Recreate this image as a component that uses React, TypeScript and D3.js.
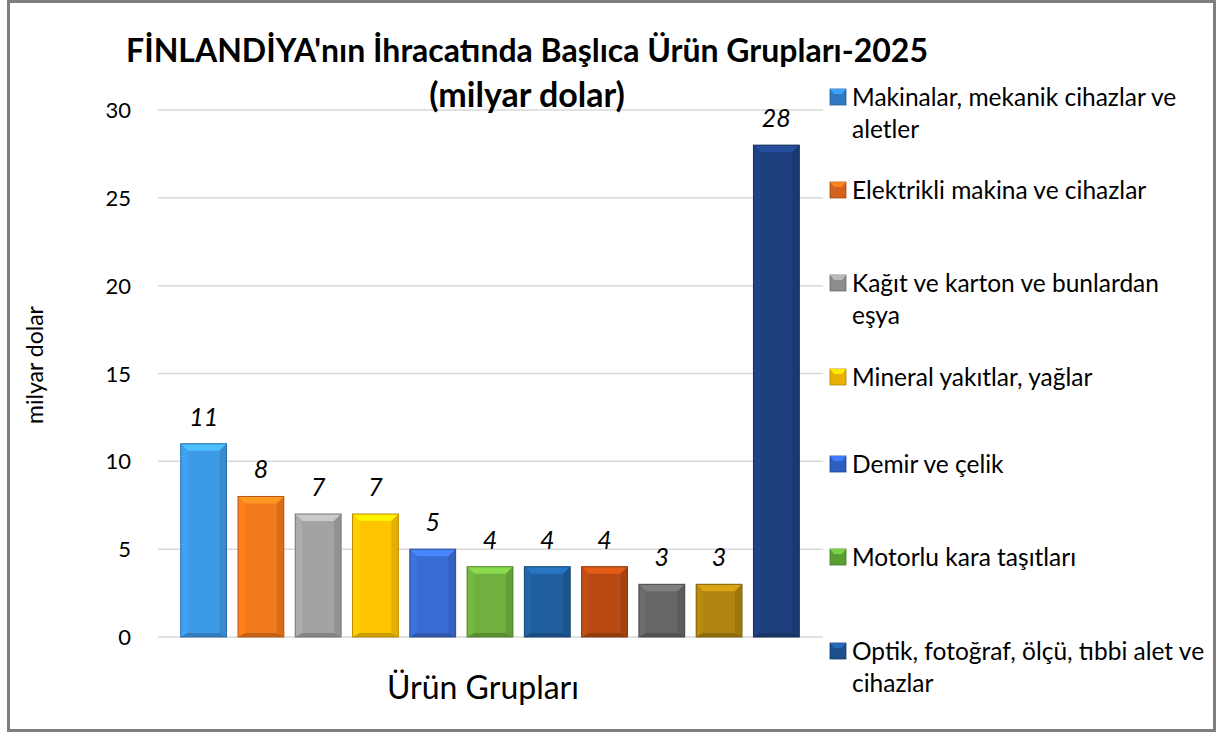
import React, { useEffect, useRef } from 'react';
import * as d3 from 'd3';

const categories = [
  'Makinalar, mekanik cihazlar ve aletler',
  'Elektrikli makina ve cihazlar',
  'Kağıt ve karton ve bunlardan eşya',
  'Mineral yakıtlar, yağlar',
  'Demir ve çelik',
  'Motorlu kara taşıtları',
  'Optik, fotoğraf, ölçü, tıbbi alet ve cihazlar',
  'Plastikler ve mamulleri',
  'Ağaç ve ağaç mamulleri',
  'Eczacılık ürünleri',
  'Diğer',
];
const values = [11, 8, 7, 7, 5, 4, 4, 4, 3, 3, 28];
const colors = [
  '#3d9ae6', '#f27a1c', '#a3a3a3', '#ffc400', '#3a6cd4', '#6fb03e',
  '#1f5f9e', '#b84a12', '#666666', '#b08410', '#1e3f7e',
];
// legend shows only the entries that fit
const legendLines = [
  ['Makinalar, mekanik cihazlar ve', 'aletler'],
  ['Elektrikli makina ve cihazlar'],
  ['Kağıt ve karton ve bunlardan', 'eşya'],
  ['Mineral yakıtlar, yağlar'],
  ['Demir ve çelik'],
  ['Motorlu kara taşıtları'],
  ['Optik, fotoğraf, ölçü, tıbbi alet ve', 'cihazlar'],
];
const legendColors = ['#2f78c4', '#d2621c', '#8c8c8c', '#e8b000', '#2d5fc0', '#5a9e32', '#1c4f8c'];
const yTicks = [0, 5, 10, 15, 20, 25, 30];

const W = 1219;
const H = 733;
const font = 'Lato, "Open Sans", sans-serif';

export default function App() {
  const svgRef = useRef<SVGSVGElement>(null);

  useEffect(() => {
    const svg = d3.select(svgRef.current);
    svg.selectAll('*').remove();

    const x = d3.scaleBand<number>()
      .domain(d3.range(values.length))
      .range([175, 805])
      .paddingInner(0.2)
      .paddingOuter(0.1);

    const y = d3.scaleLinear().domain([0, 30]).range([637, 110]);

    svg.append('rect')
      .attr('x', 8.5).attr('y', 1.5)
      .attr('width', 1206).attr('height', 729)
      .attr('fill', '#fff')
      .attr('stroke', '#7f7f7f')
      .attr('stroke-width', 3);

    // grid
    svg.append('g')
      .selectAll('line')
      .data(yTicks)
      .join('line')
      .attr('x1', 158).attr('x2', 823)
      .attr('y1', d => y(d)).attr('y2', d => y(d))
      .attr('stroke', '#d9d9d9')
      .attr('stroke-width', 1.5);

    svg.append('g')
      .selectAll('text')
      .data(yTicks)
      .join('text')
      .attr('x', 131)
      .attr('y', d => y(d) + 8)
      .attr('text-anchor', 'end')
      .attr('font-family', font)
      .attr('font-size', 22)
      .attr('fill', '#000')
      .text(d => d);

    // bars with a bevel look
    const bw = x.bandwidth();
    const bars = svg.append('g')
      .selectAll('g')
      .data(values)
      .join('g')
      .attr('transform', (d, i) => `translate(${x(i)},${y(d)})`);

    bars.append('rect')
      .attr('width', bw)
      .attr('height', d => y(0) - y(d))
      .attr('fill', (d, i) => colors[i]);

    const bev = 7;
    bars.append('path')
      .attr('d', `M0,0 L${bw},0 L${bw - bev},${bev} L${bev},${bev} Z`)
      .attr('fill', (d, i) => d3.color(colors[i])!.brighter(0.6).toString());
    bars.append('path')
      .attr('d', d => `M0,0 L${bev},${bev} L${bev},${y(0) - y(d) - 4} L0,${y(0) - y(d)} Z`)
      .attr('fill', (d, i) => d3.color(colors[i])!.brighter(0.15).toString());
    bars.append('path')
      .attr('d', d => `M${bw},0 L${bw - bev},${bev} L${bw - bev},${y(0) - y(d) - 4} L${bw},${y(0) - y(d)} Z`)
      .attr('fill', (d, i) => d3.color(colors[i])!.darker(0.3).toString());
    bars.append('path')
      .attr('d', d => `M0,${y(0) - y(d)} L${bev},${y(0) - y(d) - 4} L${bw - bev},${y(0) - y(d) - 4} L${bw},${y(0) - y(d)} Z`)
      .attr('fill', (d, i) => d3.color(colors[i])!.darker(0.6).toString());
    bars.append('rect')
      .attr('width', bw)
      .attr('height', d => y(0) - y(d))
      .attr('fill', 'none')
      .attr('stroke', (d, i) => d3.color(colors[i])!.darker(0.9).toString())
      .attr('stroke-width', 1);

    // value labels
    svg.append('g')
      .selectAll('text')
      .data(values)
      .join('text')
      .attr('x', (d, i) => x(i)! + bw / 2)
      .attr('y', d => y(d) - 18)
      .attr('text-anchor', 'middle')
      .attr('font-family', font)
      .attr('font-style', 'italic')
      .attr('font-size', 25)
      .text(d => d);

    // titles
    svg.append('text')
      .attr('x', 527).attr('y', 62)
      .attr('text-anchor', 'middle')
      .attr('font-family', font)
      .attr('font-weight', 'bold')
      .attr('font-size', 32)
      .text("FİNLANDİYA'nın İhracatında Başlıca Ürün Grupları-2025");
    svg.append('text')
      .attr('x', 527).attr('y', 107)
      .attr('text-anchor', 'middle')
      .attr('font-family', font)
      .attr('font-weight', 'bold')
      .attr('font-size', 34)
      .text('(milyar dolar)');

    svg.append('text')
      .attr('transform', 'translate(43,365) rotate(-90)')
      .attr('text-anchor', 'middle')
      .attr('font-family', font)
      .attr('font-size', 23)
      .text('milyar dolar');

    svg.append('text')
      .attr('x', 483).attr('y', 699)
      .attr('text-anchor', 'middle')
      .attr('font-family', font)
      .attr('font-size', 32)
      .text('Ürün Grupları');

    // legend
    const legendY = [97, 190, 283, 377, 464, 557, 651];
    const leg = svg.append('g')
      .selectAll('g')
      .data(legendLines)
      .join('g')
      .attr('transform', (d, i) => `translate(830,${legendY[i]})`);

    leg.append('rect')
      .attr('x', 0).attr('y', -8)
      .attr('width', 16).attr('height', 16)
      .attr('fill', (d, i) => legendColors[i])
      .attr('stroke', (d, i) => d3.color(legendColors[i])!.darker(0.8).toString())
      .attr('stroke-width', 0.8);
    leg.append('path')
      .attr('d', 'M0,-8 L16,-8 L12,-3 L4,-3 Z')
      .attr('fill', (d, i) => d3.color(legendColors[i])!.brighter(0.8).toString());

    leg.append('text')
      .attr('x', 22)
      .attr('font-family', font)
      .attr('font-size', 24.5)
      .selectAll('tspan')
      .data(d => d)
      .join('tspan')
      .attr('x', 22)
      .attr('y', (d, j) => 9 + j * 32)
      .text(d => d);
  }, []);

  return (
    <svg ref={svgRef} width={W} height={H}
      style={{ position: 'absolute', left: 0, top: 0, background: '#fff' }} />
  );
}
